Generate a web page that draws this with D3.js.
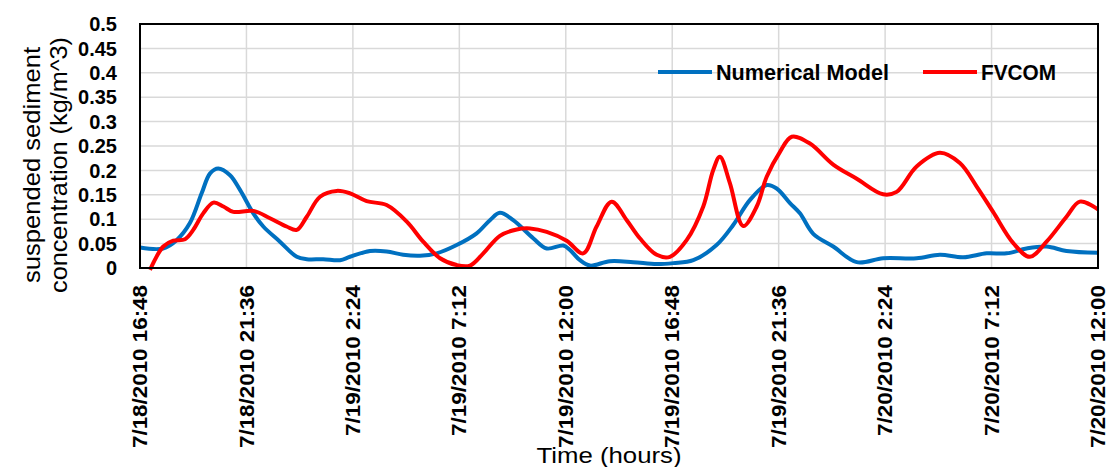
<!DOCTYPE html>
<html>
<head>
<meta charset="utf-8">
<script src="https://cdn.jsdelivr.net/npm/d3@7"></script>
<style>
  html, body { margin: 0; padding: 0; background: #fff; }
  svg { display: block; }
  text { font-family: "Liberation Sans", Arial, sans-serif; fill: #000; }
</style>
</head>
<body>
<svg id="chart" width="1109" height="467"></svg>
<script>
// ---- data (hours since 7/18/2010 16:48) ----
const tickHours = [0, 4.8, 9.6, 14.4, 19.2, 24, 28.8, 33.6, 38.4, 43.2];
const tickLabels = ["7/18/2010 16:48", "7/18/2010 21:36", "7/19/2010 2:24", "7/19/2010 7:12",
  "7/19/2010 12:00", "7/19/2010 16:48", "7/19/2010 21:36", "7/20/2010 2:24", "7/20/2010 7:12", "7/20/2010 12:00"];
const yTicks = [0, 0.05, 0.1, 0.15, 0.2, 0.25, 0.3, 0.35, 0.4, 0.45, 0.5];
const yTickLabels = ["0", "0.05", "0.1", "0.15", "0.2", "0.25", "0.3", "0.35", "0.4", "0.45", "0.5"];
const seriesNames = ["Numerical Model", "FVCOM"];

const modelHours = [0.00, 1.04, 1.65, 2.25, 2.78, 3.16, 3.53, 4.06, 4.51, 5.11, 5.56, 6.31, 7.07, 7.52, 8.26, 9.02,
  9.47, 10.37, 11.12, 11.87, 12.63, 13.38, 14.28, 15.18, 15.78, 16.23, 16.83, 17.73, 18.34, 19.09, 19.39, 19.84,
  20.29, 21.19, 22.24, 23.30, 24.05, 24.95, 26.00, 26.75, 27.50, 28.26, 28.71, 29.31, 29.76, 30.36, 31.26, 32.32,
  33.51, 35.02, 36.07, 37.12, 38.18, 39.08, 39.98, 40.88, 41.78, 43.20];
const modelValues = [0.042, 0.040, 0.057, 0.092, 0.153, 0.194, 0.204, 0.190, 0.160, 0.112, 0.085, 0.054, 0.023, 0.018, 0.018, 0.016,
  0.023, 0.035, 0.034, 0.027, 0.025, 0.030, 0.047, 0.071, 0.098, 0.113, 0.098, 0.061, 0.040, 0.046, 0.037, 0.016,
  0.005, 0.014, 0.012, 0.008, 0.010, 0.016, 0.047, 0.088, 0.139, 0.170, 0.163, 0.133, 0.112, 0.070, 0.044, 0.012,
  0.020, 0.020, 0.027, 0.022, 0.030, 0.030, 0.040, 0.044, 0.035, 0.031];

const fvcomHours = [0.45, 1.05, 1.50, 2.03, 2.40, 2.85, 3.31, 3.76, 4.21, 5.11, 5.86, 6.61, 7.07, 7.52, 8.12, 8.87,
  9.47, 10.22, 11.12, 12.03, 12.77, 13.53, 14.28, 14.88, 15.48, 16.23, 16.99, 17.59, 18.34, 19.24, 19.99, 20.59,
  21.27, 21.95, 22.54, 23.30, 23.90, 24.65, 25.40, 25.85, 26.15, 26.60, 27.20, 27.81, 28.26, 28.86, 29.39, 30.21,
  31.26, 32.32, 33.51, 34.12, 35.02, 36.07, 36.97, 37.73, 38.47, 39.38, 40.13, 40.88, 41.78, 42.38, 43.20];
const fvcomValues = [-0.004, 0.044, 0.056, 0.059, 0.078, 0.112, 0.134, 0.126, 0.115, 0.117, 0.102, 0.085, 0.078, 0.105, 0.146, 0.158,
  0.153, 0.137, 0.129, 0.095, 0.054, 0.020, 0.006, 0.005, 0.030, 0.066, 0.079, 0.081, 0.074, 0.056, 0.030, 0.085,
  0.136, 0.098, 0.061, 0.027, 0.023, 0.057, 0.126, 0.201, 0.228, 0.174, 0.086, 0.126, 0.187, 0.238, 0.269, 0.255,
  0.212, 0.183, 0.151, 0.156, 0.208, 0.236, 0.215, 0.167, 0.115, 0.051, 0.023, 0.054, 0.105, 0.136, 0.120];

// ---- layout ----
const svg = d3.select("#chart");
const plot = { left: 140, right: 1098, top: 24, bottom: 268 };
const x = d3.scaleLinear().domain([0, 43.2]).range([plot.left, plot.right]);
const y = d3.scaleLinear().domain([0, 0.5]).range([plot.bottom, plot.top]);

// gridlines
svg.append("g").selectAll("line.h").data(yTicks).join("line")
  .attr("x1", plot.left).attr("x2", plot.right)
  .attr("y1", d => y(d)).attr("y2", d => y(d))
  .attr("stroke", "#d9d9d9").attr("stroke-width", 1.5);
svg.append("g").selectAll("line.v").data(tickHours).join("line")
  .attr("x1", d => x(d)).attr("x2", d => x(d))
  .attr("y1", plot.top).attr("y2", plot.bottom)
  .attr("stroke", "#d9d9d9").attr("stroke-width", 1.5);

// y tick labels
svg.append("g").selectAll("text").data(yTicks).join("text")
  .attr("x", 117).attr("y", d => y(d)).attr("dy", "0.36em")
  .attr("text-anchor", "end")
  .style("font-size", "20px").style("font-weight", "bold")
  .text((d, i) => yTickLabels[i]);

// x tick labels (rotated)
svg.append("g").selectAll("text").data(tickHours).join("text")
  .attr("transform", d => `translate(${x(d)},285) rotate(-90)`)
  .attr("dy", "0.34em")
  .attr("text-anchor", "end")
  .style("font-size", "21px").style("font-weight", "bold")
  .attr("textLength", (d, i) => tickLabels[i].length > 14 ? 163 : 151)
  .attr("lengthAdjust", "spacingAndGlyphs")
  .text((d, i) => tickLabels[i]);

// axis titles
const yTitle = svg.append("g").attr("transform", "translate(0,165) rotate(-90)");
yTitle.append("text").attr("x", 0).attr("y", 40).attr("text-anchor", "middle")
  .style("font-size", "24px").attr("textLength", 236).attr("lengthAdjust", "spacingAndGlyphs")
  .text("suspended sediment");
yTitle.append("text").attr("x", 0).attr("y", 67).attr("text-anchor", "middle")
  .style("font-size", "24px").attr("textLength", 256).attr("lengthAdjust", "spacingAndGlyphs")
  .text("concentration (kg/m^3)");
svg.append("text").attr("x", 609).attr("y", 463).attr("text-anchor", "middle")
  .style("font-size", "22px").attr("textLength", 145).attr("lengthAdjust", "spacingAndGlyphs")
  .text("Time (hours)");

// lines
const line = d3.line().x(d => x(d[0])).y(d => y(d[1])).curve(d3.curveCatmullRom.alpha(0.5));
const modelData = modelHours.map((h, i) => [h, modelValues[i]]);
const fvcomData = fvcomHours.map((h, i) => [h, fvcomValues[i]]);
svg.append("path").datum(modelData).attr("d", line)
  .attr("fill", "none").attr("stroke", "#0070C0").attr("stroke-width", 4).attr("stroke-linejoin", "round");
svg.append("path").datum(fvcomData).attr("d", line)
  .attr("fill", "none").attr("stroke", "#FF0000").attr("stroke-width", 4).attr("stroke-linejoin", "round");

// plot border
svg.append("rect").attr("x", plot.left).attr("y", plot.top)
  .attr("width", plot.right - plot.left).attr("height", plot.bottom - plot.top)
  .attr("fill", "none").attr("stroke", "#000").attr("stroke-width", 2);

// legend
const legendItems = [
  { name: seriesNames[0], color: "#0070C0", x0: 658, tx: 716, tl: 173 },
  { name: seriesNames[1], color: "#FF0000", x0: 923, tx: 981, tl: 75 }
];
const lg = svg.append("g");
legendItems.forEach(it => {
  lg.append("line").attr("x1", it.x0).attr("x2", it.x0 + 54).attr("y1", 72).attr("y2", 72)
    .attr("stroke", it.color).attr("stroke-width", 4);
  lg.append("text").attr("x", it.tx).attr("y", 80)
    .style("font-size", "22px").style("font-weight", "bold")
    .attr("textLength", it.tl).attr("lengthAdjust", "spacingAndGlyphs")
    .text(it.name);
});
</script>
</body>
</html>
